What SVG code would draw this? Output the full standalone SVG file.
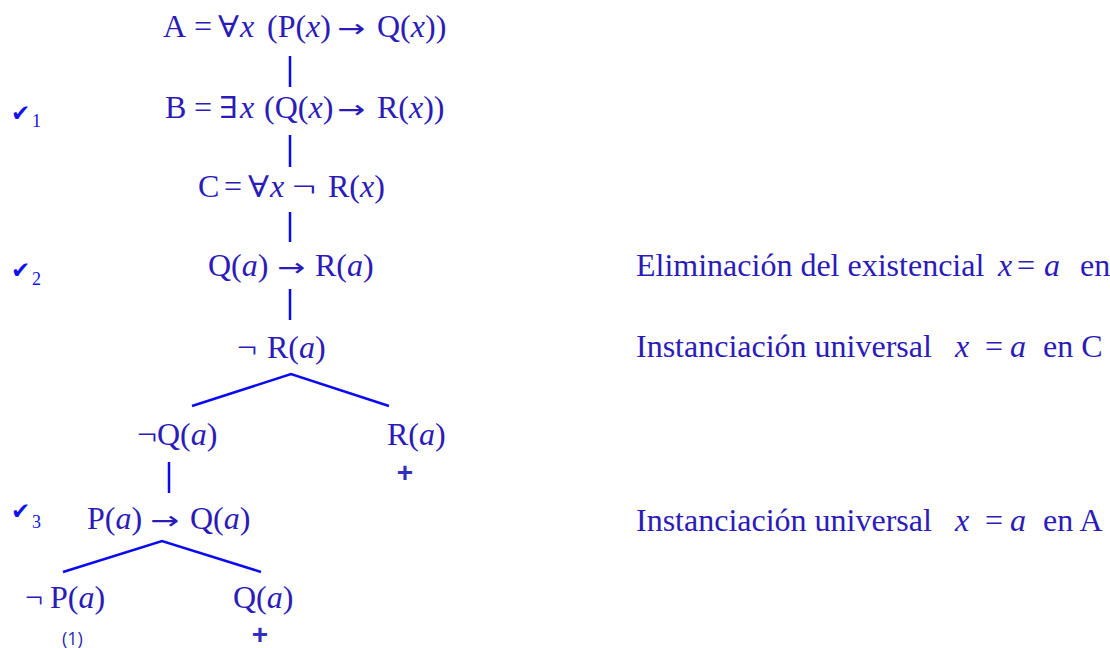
<svg xmlns="http://www.w3.org/2000/svg" width="1110" height="648" viewBox="0 0 1110 648">
<style>
.f{font-family:"Liberation Serif","DejaVu Serif",serif;font-size:32px;fill:#2B1BB8}
.i{font-style:italic}
.q{font-family:"DejaVu Serif",serif;font-size:30px}
.ar{font-family:"DejaVu Sans",sans-serif;font-size:25px}
.ck{font-family:"DejaVu Sans",sans-serif;font-size:23px;fill:#1212F0}
.sub{font-family:"Liberation Serif",serif;font-size:18px;fill:#1212F0}
.plus{font-family:"Liberation Sans",sans-serif;font-size:28px;font-weight:bold;fill:#3030C0;text-anchor:middle}
.note{font-family:"Open Sans","Liberation Sans",sans-serif;font-size:18px;fill:#2A2AB0}
.c{stroke:#0A0AF2;stroke-width:2.5;fill:none}
</style>
<rect width="1110" height="648" fill="#fff"/>
<g id="connectors">
<line class="c" x1="290" y1="56" x2="290" y2="87"/>
<line class="c" x1="290" y1="135" x2="290" y2="167"/>
<line class="c" x1="290" y1="212" x2="290" y2="242"/>
<line class="c" x1="290" y1="289" x2="290" y2="320"/>
<polyline class="c" points="192,406 291,374 389,406"/>
<line class="c" x1="169" y1="462" x2="169" y2="493"/>
<polyline class="c" points="63,572 162,541 261,572"/>
</g>
<g id="nA"><text class="f" y="37"><tspan x="163">A</tspan><tspan x="194">=</tspan><tspan x="218" class="q" textLength="21" lengthAdjust="spacingAndGlyphs">∀</tspan><tspan x="240" class="i">x</tspan><tspan x="267">(P(</tspan><tspan class="i">x</tspan>)<tspan class="ar" x="337" textLength="28" lengthAdjust="spacingAndGlyphs">→</tspan><tspan x="377">Q(</tspan><tspan class="i">x</tspan>))</text></g>
<g id="nB"><text class="f" y="118"><tspan x="165">B</tspan><tspan x="194">=</tspan><tspan x="219" class="q" textLength="19" lengthAdjust="spacingAndGlyphs">∃</tspan><tspan x="240" class="i">x</tspan><tspan x="264">(Q(</tspan><tspan class="i">x</tspan>)<tspan class="ar" x="337" textLength="28" lengthAdjust="spacingAndGlyphs">→</tspan><tspan x="377">R(</tspan><tspan class="i">x</tspan>))</text></g>
<g id="nC"><text class="f" y="197"><tspan x="198">C</tspan><tspan x="224">=</tspan><tspan x="248" class="q" textLength="21" lengthAdjust="spacingAndGlyphs">∀</tspan><tspan x="270" class="i">x</tspan><tspan x="292" textLength="24" lengthAdjust="spacingAndGlyphs">¬</tspan><tspan x="328">R(</tspan><tspan class="i">x</tspan>)</text></g>
<g id="nD"><text class="f" y="276"><tspan x="208">Q(</tspan><tspan class="i">a</tspan>)<tspan class="ar" x="277" textLength="28" lengthAdjust="spacingAndGlyphs">→</tspan><tspan x="315">R(</tspan><tspan class="i">a</tspan>)</text></g>
<g id="nE"><text class="f" y="358"><tspan x="237" textLength="20" lengthAdjust="spacingAndGlyphs">¬</tspan><tspan x="267">R(</tspan><tspan class="i">a</tspan>)</text></g>
<g id="nF"><text class="f" y="445"><tspan x="137" textLength="20" lengthAdjust="spacingAndGlyphs">¬</tspan><tspan x="157">Q(</tspan><tspan class="i">a</tspan>)</text></g>
<g id="nG"><text class="f" x="387" y="445">R(<tspan class="i">a</tspan>)</text><text class="plus" x="405" y="482">+</text></g>
<g id="nH"><text class="f" y="529"><tspan x="87">P(</tspan><tspan class="i">a</tspan>)<tspan class="ar" x="150" textLength="29" lengthAdjust="spacingAndGlyphs">→</tspan><tspan x="190">Q(</tspan><tspan class="i">a</tspan>)</text></g>
<g id="nI"><text class="f" y="608"><tspan x="25" textLength="18" lengthAdjust="spacingAndGlyphs">¬</tspan><tspan x="50">P(</tspan><tspan class="i">a</tspan>)</text><text class="note" x="62" y="645">(1)</text></g>
<g id="nJ"><text class="f" x="233" y="608">Q(<tspan class="i">a</tspan>)</text><text class="plus" x="260" y="644">+</text></g>
<g id="checks">
<text class="ck" x="11" y="121">✔</text><text class="sub" x="32" y="127">1</text>
<text class="ck" x="11" y="278">✔</text><text class="sub" x="32" y="285">2</text>
<text class="ck" x="11" y="519">✔</text><text class="sub" x="32" y="528">3</text>
</g>
<g id="notes">
<text class="f" x="636" y="276">Eliminación del existencial <tspan class="i" x="998">x</tspan><tspan x="1017">=</tspan><tspan class="i" x="1044">a</tspan><tspan x="1080">en</tspan></text>
<text class="f" x="636" y="357">Instanciación universal <tspan class="i" x="955">x</tspan><tspan x="985">=</tspan><tspan class="i" x="1010">a</tspan><tspan x="1043">en C</tspan></text>
<text class="f" x="636" y="531">Instanciación universal <tspan class="i" x="955">x</tspan><tspan x="985">=</tspan><tspan class="i" x="1010">a</tspan><tspan x="1043">en A</tspan></text>
</g>
</svg>
